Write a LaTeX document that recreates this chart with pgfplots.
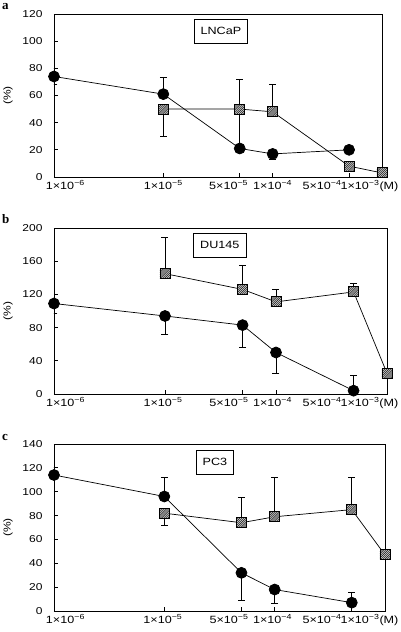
\documentclass[border=0pt]{standalone}
\usepackage{fontspec}
\setmainfont{Liberation Sans}[FakeStretch=1.2]
\newfontfamily\letterfont{Liberation Serif}
\usepackage{pgfplots}
\pgfplotsset{compat=1.18}

\pgfdeclareplotmark{hsq}{%
  \pgfpathrectangle{\pgfpoint{-\pgfplotmarksize}{-\pgfplotmarksize}}{\pgfpoint{2\pgfplotmarksize}{2\pgfplotmarksize}}%
  \pgfsetfillcolor{gray!30}\pgfusepathqfill
  \begin{pgfscope}
    \pgfpathrectangle{\pgfpoint{-\pgfplotmarksize}{-\pgfplotmarksize}}{\pgfpoint{2\pgfplotmarksize}{2\pgfplotmarksize}}%
    \pgfusepathqclip
    \pgfsetstrokecolor{black!85}\pgfsetlinewidth{0.6pt}%
    \foreach \k in {-5,...,5}{%
      \pgfpathmoveto{\pgfpoint{(-1+0.42*\k)*\pgfplotmarksize}{-\pgfplotmarksize}}%
      \pgfpathlineto{\pgfpoint{(1+0.42*\k)*\pgfplotmarksize}{\pgfplotmarksize}}%
      \pgfusepathqstroke
    }%
  \end{pgfscope}
  \pgfsetstrokecolor{black}\pgfsetlinewidth{0.9pt}%
  \pgfpathrectangle{\pgfpoint{-\pgfplotmarksize}{-\pgfplotmarksize}}{\pgfpoint{2\pgfplotmarksize}{2\pgfplotmarksize}}%
  \pgfusepathqstroke
}

\pgfplotsset{
  circ/.style={black, line width=0.7pt, mark=*, mark size=5.5pt, mark options={fill=black, solid},
    error bars/y dir=both, error bars/y explicit,
    error bars/error bar style={line width=0.8pt},
    error bars/error mark options={rotate=90, line width=0.8pt, mark size=3.5pt}},
  sq/.style={black, line width=0.7pt, mark=hsq, mark size=5pt,
    error bars/y dir=both, error bars/y explicit,
    error bars/error bar style={line width=0.8pt},
    error bars/error mark options={rotate=90, line width=0.8pt, mark size=3.5pt}},
}
\tikzset{cellbox/.style={draw, line width=0.8pt, fill=white, font=\fontsize{10.5}{12}\selectfont, inner xsep=6.5pt, minimum height=24pt}}

\begin{document}
\begin{tikzpicture}[x=1pt,y=1pt]
\useasboundingbox (0,0) rectangle (400,632);

% ---------------- panel a ----------------
\begin{axis}[scale only axis, xmode=log, xmin=1e-6, xmax=1e-3,
    axis line style={line width=0.8pt},
    tick pos=left, tick align=inside,
    xtick={1e-5,5e-5,1e-4,5e-4}, xticklabels={,,,,},
    xminorticks=false, yminorticks=false,
    major tick length=4pt, tick style={line width=0.8pt, black},
    extra x ticks={1.27e-6,1e-5,3.96e-5,1e-4,2.83e-4,7.69e-4},
    extra x tick labels={1×10\textsuperscript{−6},1×10\textsuperscript{−5},5×10\textsuperscript{−5},1×10\textsuperscript{−4},5×10\textsuperscript{−4},1×10\textsuperscript{−3}(M)},
    extra x tick style={major tick length=0pt},
    xticklabel style={font=\fontsize{10.5}{12}\selectfont},
    yticklabel style={font=\fontsize{10}{12}\selectfont, xshift=-8pt},
    /pgf/number format/assume math mode=true,
    ylabel={(\%)}, ylabel style={font=\fontsize{10}{12}\selectfont}, ylabel shift=3pt,
  at={(54pt,455pt)}, anchor=south west, width=328pt, height=163pt,
  ymin=0, ymax=120, ytick={0,20,...,120}]
\addplot[circ] coordinates {
  (1e-6,74) += (0,6) -= (0,6)
  (1e-5,61) += (0,12) -= (0,0)
  (5e-5,21) += (0,0) -= (0,0)
  (1e-4,17) += (0,0) -= (0,4)
  (5e-4,20) += (0,0) -= (0,0)
};
\addplot[sq] coordinates {
  (1e-5,50) += (0,0) -= (0,20)
  (5e-5,50) += (0,22) -= (0,26)
  (1e-4,48) += (0,20) -= (0,0)
  (5e-4,8) += (0,0) -= (0,0)
  (1e-3,3) += (0,0) -= (0,0)
};
\node[cellbox] at (rel axis cs:0.509,0.896) {LNCaP};
\end{axis}

% ---------------- panel b ----------------
\begin{axis}[scale only axis, xmode=log, xmin=1e-6, xmax=1e-3,
    axis line style={line width=0.8pt},
    tick pos=left, tick align=inside,
    xtick={1e-5,5e-5,1e-4,5e-4}, xticklabels={,,,,},
    xminorticks=false, yminorticks=false,
    major tick length=4pt, tick style={line width=0.8pt, black},
    extra x ticks={1.27e-6,9.6e-6,3.77e-5,9.3e-5,2.6e-4,6.95e-4},
    extra x tick labels={1×10\textsuperscript{−6},1×10\textsuperscript{−5},5×10\textsuperscript{−5},1×10\textsuperscript{−4},5×10\textsuperscript{−4},1×10\textsuperscript{−3}(M)},
    extra x tick style={major tick length=0pt},
    xticklabel style={font=\fontsize{10.5}{12}\selectfont},
    yticklabel style={font=\fontsize{10}{12}\selectfont, xshift=-8pt},
    /pgf/number format/assume math mode=true,
    ylabel={(\%)}, ylabel style={font=\fontsize{10}{12}\selectfont}, ylabel shift=3pt,
  at={(54pt,238pt)}, anchor=south west, width=333pt, height=166pt,
  ymin=0, ymax=200, ytick={0,40,...,200}]
\addplot[circ] coordinates {
  (1e-6,109) += (0,0) -= (0,12)
  (1e-5,94) += (0,0) -= (0,22)
  (5e-5,83) += (0,0) -= (0,27)
  (1e-4,50) += (0,0) -= (0,25)
  (5e-4,4) += (0,19) -= (0,0)
};
\addplot[sq] coordinates {
  (1e-5,145) += (0,44) -= (0,0)
  (5e-5,126) += (0,29) -= (0,0)
  (1e-4,111) += (0,15) -= (0,0)
  (5e-4,123) += (0,10) -= (0,0)
  (1e-3,25) += (0,0) -= (0,0)
};
\node[cellbox] at (rel axis cs:0.498,0.898) {DU145};
\end{axis}

% ---------------- panel c ----------------
\begin{axis}[scale only axis, xmode=log, xmin=1e-6, xmax=1e-3,
    axis line style={line width=0.8pt},
    tick pos=left, tick align=inside,
    xtick={1e-5,5e-5,1e-4,5e-4}, xticklabels={,,,,},
    xminorticks=false, yminorticks=false,
    major tick length=4pt, tick style={line width=0.8pt, black},
    extra x ticks={1.27e-6,9.7e-6,3.86e-5,9.56e-5,2.69e-4,7.24e-4},
    extra x tick labels={1×10\textsuperscript{−6},1×10\textsuperscript{−5},5×10\textsuperscript{−5},1×10\textsuperscript{−4},5×10\textsuperscript{−4},1×10\textsuperscript{−3}(M)},
    extra x tick style={major tick length=0pt},
    xticklabel style={font=\fontsize{10.5}{12}\selectfont},
    yticklabel style={font=\fontsize{10}{12}\selectfont, xshift=-8pt},
    /pgf/number format/assume math mode=true,
    ylabel={(\%)}, ylabel style={font=\fontsize{10}{12}\selectfont}, ylabel shift=3pt,
  at={(54pt,21pt)}, anchor=south west, width=331pt, height=167pt,
  ymin=0, ymax=140, ytick={0,20,...,140}]
\addplot[circ] coordinates {
  (1e-6,114) += (0,6) -= (0,0)
  (1e-5,96) += (0,16) -= (0,0)
  (5e-5,32) += (0,0) -= (0,23)
  (1e-4,18) += (0,0) -= (0,12)
  (5e-4,7) += (0,9) -= (0,0)
};
\addplot[sq] coordinates {
  (1e-5,82) += (0,0) -= (0,10)
  (5e-5,74) += (0,21) -= (0,0)
  (1e-4,79) += (0,33) -= (0,0)
  (5e-4,85) += (0,27) -= (0,0)
  (1e-3,47) += (0,0) -= (0,0)
};
\node[cellbox] at (rel axis cs:0.486,0.892) {PC3};
\end{axis}

\node[anchor=north west, inner sep=0pt, font=\letterfont\bfseries\fontsize{13}{14}\selectfont] at (2,629) {a};
\node[anchor=north west, inner sep=0pt, font=\letterfont\bfseries\fontsize{13}{14}\selectfont] at (2,418) {b};
\node[anchor=north west, inner sep=0pt, font=\letterfont\bfseries\fontsize{13}{14}\selectfont] at (2,198) {c};
\end{tikzpicture}
\end{document}
